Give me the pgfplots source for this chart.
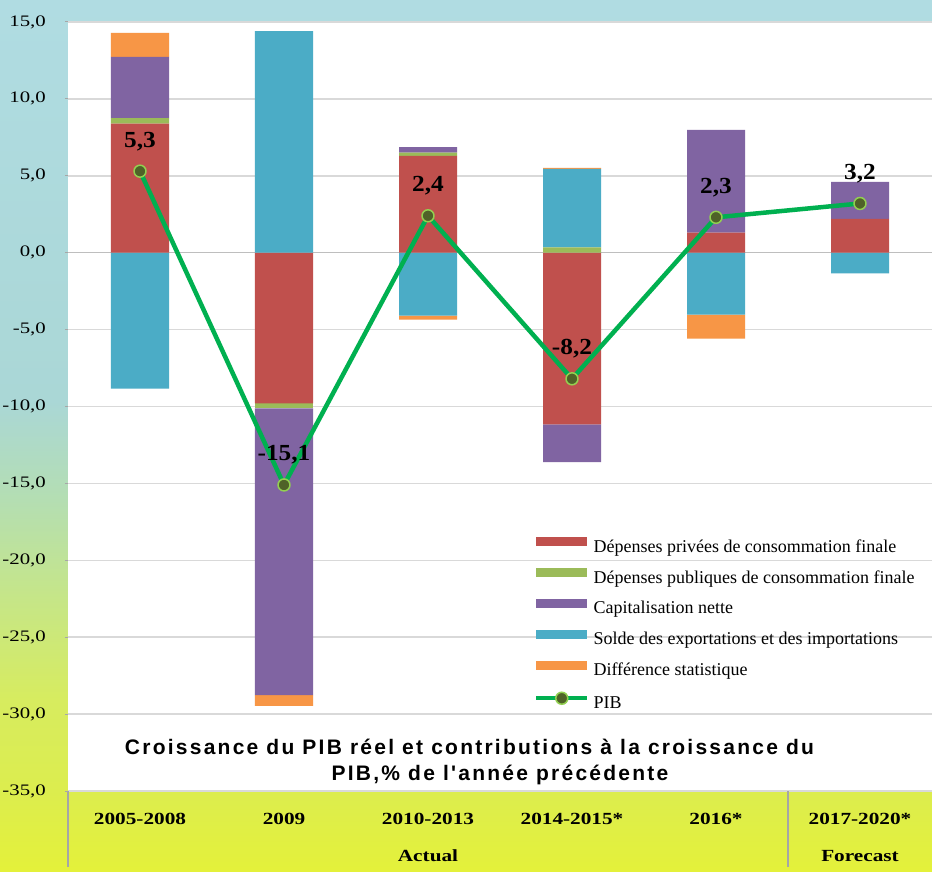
\documentclass[border=0pt]{standalone}
\usepackage{pgfplots}
\pgfplotsset{compat=1.18}
\usepackage{fontspec}
\setmainfont{Liberation Serif}
\newfontfamily\tickfont{Liberation Serif}[FakeStretch=1.3]
\newfontfamily\catfont{Liberation Serif}[FakeStretch=1.25]
\newfontfamily\lblfont{Liberation Serif}[FakeStretch=1.1]
\newfontfamily\titlefont{Liberation Sans}[LetterSpace=10.7,Ligatures=TeXOff]

\definecolor{cRed}{RGB}{192,80,77}
\definecolor{cGreen}{RGB}{155,187,89}
\definecolor{cPurple}{RGB}{128,100,162}
\definecolor{cTeal}{RGB}{75,172,198}
\definecolor{cOrange}{RGB}{247,150,70}
\definecolor{cLine}{RGB}{0,176,80}
\definecolor{cMark}{RGB}{79,98,40}
\definecolor{cMarkS}{RGB}{146,208,80}
\definecolor{cGrid}{RGB}{217,217,217}
\definecolor{cZero}{RGB}{190,190,190}
\definecolor{cTab}{RGB}{166,166,166}

\definecolor{bgY}{RGB}{228,241,58}
\definecolor{bgY2}{RGB}{220,237,78}
\definecolor{bgY3}{RGB}{215,236,95}
\definecolor{bgG}{RGB}{198,230,135}
\definecolor{bgG2}{RGB}{180,222,178}
\definecolor{bgT}{RGB}{170,215,214}
\definecolor{bgT2}{RGB}{176,220,226}
\pgfdeclareverticalshading{bgshade}{100bp}{color(0bp)=(bgY); color(25bp)=(bgY); color(29.6bp)=(bgY2); color(34.8bp)=(bgY3); color(40.6bp)=(bgG); color(46.3bp)=(bgG2); color(52bp)=(bgT); color(75bp)=(bgT2); color(100bp)=(bgT2)}

\pgfplotsset{
  barleg/.style={legend image code/.code={\fill[##1, draw=none] (0pt,1.5pt) rectangle (51pt,10.5pt); \path (0pt,-10.5pt) (0pt,10.5pt);}},
  lineleg/.style={legend image code/.code={\draw[##1] (0pt,6pt) -- (51pt,6pt); \draw[##1] plot coordinates {(25.5pt,6pt)}; \path (0pt,-10.5pt) (0pt,10.5pt);}},
}

\begin{document}
\begin{tikzpicture}
\useasboundingbox (0pt,0pt) rectangle (932pt,871pt);
\shade[shading=bgshade] (0pt,0pt) rectangle (932pt,871pt);

\begin{axis}[
  at={(68pt,80pt)}, anchor=south west,
  scale only axis, width=864pt, height=769pt,
  xmin=-0.5, xmax=5.5, ymin=-35, ymax=15,
  ybar stacked, bar width=58pt,
  axis background/.style={fill=white},
  axis line style={draw=none},
  ytick={-35,-30,...,15},
  xtick={0,1,2,3,4,5},
  xticklabels={2005-2008,2009,2010-2013,2014-2015*,2016*,2017-2020*},
  xtick style={draw=none},
  ytick style={draw=cTab, line width=1pt},
  tick align=outside, major tick length=3pt,
  ymajorgrids, grid style={draw=cGrid, line width=1.5pt},
  /pgf/number format/fixed, /pgf/number format/fixed zerofill,
  /pgf/number format/precision=1, /pgf/number format/use comma,
  /pgf/number format/assume math mode=true,
  yticklabel style={font=\tickfont\fontsize{16}{16}\selectfont, inner sep=0pt, xshift=-19pt},
  xticklabel style={font=\catfont\bfseries\fontsize{17}{17}\selectfont, anchor=center, yshift=-25pt},
  clip=false,
]
% positive contributions (stacked upward from zero)
\addplot[fill=cRed, draw=none] coordinates {(0,8.4) (1,0) (2,6.3) (3,0) (4,1.3) (5,2.2)};
\addplot[fill=cGreen, draw=none] coordinates {(0,0.35) (1,0) (2,0.21) (3,0.34) (4,0) (5,0)};
\addplot[fill=cPurple, draw=none] coordinates {(0,3.98) (1,0) (2,0.35) (3,0) (4,6.69) (5,2.41)};
\addplot[fill=cTeal, draw=none] coordinates {(0,0) (1,14.4) (2,0) (3,5.11) (4,0) (5,0)};
\addplot[fill=cOrange, draw=none] coordinates {(0,1.56) (1,0) (2,0) (3,0.07) (4,0) (5,0)};
% negative contributions (stacked downward from zero)
\addplot[fill=cRed, draw=none] coordinates {(0,0) (1,-9.8) (2,0) (3,-11.17) (4,0) (5,0)};
\addplot[fill=cGreen, draw=none] coordinates {(0,0) (1,-0.33) (2,0) (3,0) (4,0) (5,0)};
\addplot[fill=cPurple, draw=none] coordinates {(0,0) (1,-18.64) (2,0) (3,-2.45) (4,0) (5,0)};
\addplot[fill=cTeal, draw=none] coordinates {(0,-8.83) (1,0) (2,-4.09) (3,0) (4,-4.03) (5,-1.34)};
\addplot[fill=cOrange, draw=none] coordinates {(0,0) (1,-0.69) (2,-0.26) (3,0) (4,-1.55) (5,0)};

\draw[cZero, line width=1.5pt] (axis cs:-0.5,0) -- (axis cs:5.5,0);
\draw[cTab, line width=1.5pt] (axis cs:-0.5,-35) -- ++(0pt,-76pt);
\draw[cTab, line width=1.5pt] (axis cs:4.5,-35) -- ++(0pt,-76pt);
\node[font=\catfont\bfseries\fontsize{17}{17}\selectfont, anchor=center, yshift=-65pt] at (axis cs:2,-35) {Actual};
\node[font=\catfont\bfseries\fontsize{17}{17}\selectfont, anchor=center, yshift=-65pt] at (axis cs:5,-35) {Forecast};
\end{axis}

\begin{axis}[
  at={(68pt,80pt)}, anchor=south west,
  scale only axis, width=864pt, height=769pt,
  xmin=-0.5, xmax=5.5, ymin=-35, ymax=15,
  hide axis, clip=false,
  legend cell align=left,
  legend style={at={(0.5394,0.3303)}, anchor=north west, draw=none, fill=none,
    inner sep=0pt, outer sep=0pt, row sep=9.5pt, column sep=4pt,
    font=\fontsize{18}{18}\selectfont,
    nodes={inner sep=0pt, text height=13pt, text depth=4pt}},
]
\addlegendimage{barleg, fill=cRed}
\addlegendentry{Dépenses privées de consommation finale}
\addlegendimage{barleg, fill=cGreen}
\addlegendentry{Dépenses publiques de consommation finale}
\addlegendimage{barleg, fill=cPurple}
\addlegendentry{Capitalisation nette}
\addlegendimage{barleg, fill=cTeal}
\addlegendentry{Solde des exportations et des importations}
\addlegendimage{barleg, fill=cOrange}
\addlegendentry{Différence statistique}
\addlegendimage{lineleg, color=cLine, line width=4.5pt, mark=*, mark size=6pt, mark options={fill=cMark, draw=cMarkS, line width=1.5pt}}
\addlegendentry{PIB}

\addplot[color=cLine, line width=4.5pt, line join=round, mark=*, mark size=6pt,
  mark options={fill=cMark, draw=cMarkS, line width=1.5pt},
  nodes near coords, point meta=explicit symbolic,
  every node near coord/.append style={anchor=center, yshift=30pt, text=black,
    font=\lblfont\bfseries\fontsize{23}{23}\selectfont}]
  table[meta=label] {
x y label
0 5.3 5,3
1 -15.1 -15,1
2 2.4 2,4
3 -8.2 -8,2
4 2.3 2,3
5 3.2 3,2
};
\end{axis}

\node[anchor=base, font=\titlefont\bfseries\fontsize{21}{21}\selectfont] at (469.5pt,117pt) {Croissance du PIB réel et contributions à la croissance du};
\node[anchor=base, font=\titlefont\bfseries\fontsize{21}{21}\selectfont] at (500pt,91pt) {PIB,\% de l'année précédente};
\end{tikzpicture}
\end{document}
